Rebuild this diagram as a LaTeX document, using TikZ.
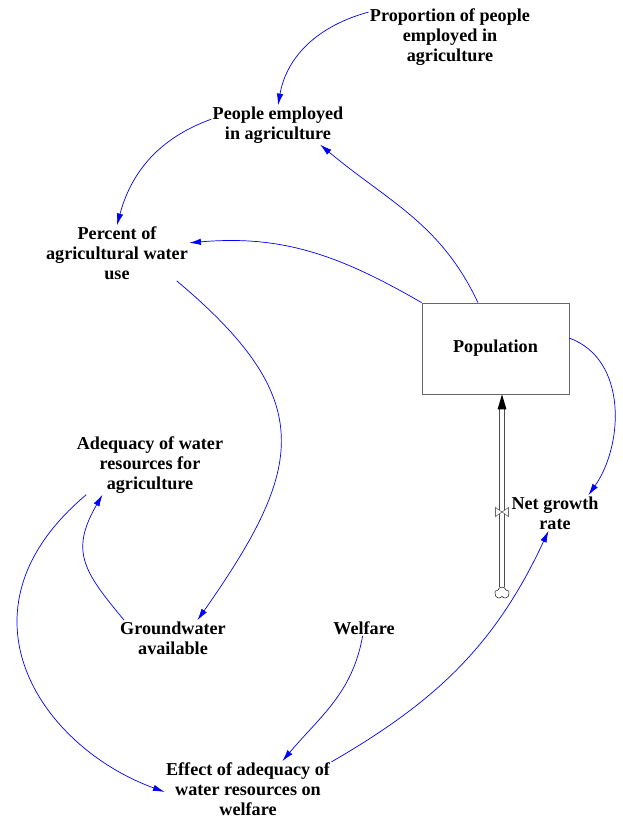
\documentclass[tikz,border=0pt]{standalone}
\usepackage{fontspec}
\setmainfont{Liberation Serif}
\usetikzlibrary{arrows.meta,shapes.symbols}
\begin{document}
\begin{tikzpicture}[x=0.3mm,y=-0.3mm,
        var/.style={align=center,inner sep=1pt,font=\fontsize{15.5}{17}\selectfont\bfseries},
        link/.style={draw=blue,line width=0.6pt,-{Latex[length=10pt,width=5.5pt]}},
        stock/.style={draw=black!60,line width=0.7pt,minimum width=44.1mm,minimum height=27.3mm,inner sep=0pt},
        pipe/.style={draw=black!70,line width=0.6pt}]
        \useasboundingbox (0,0) rectangle (623,819);
        \node[var] (prop) at (450,37) {Proportion of people\\employed in\\agriculture};
        \node[var] (emp) at (278,125) {People employed\\in agriculture};
        \node[var] (pct) at (117,253) {Percent of\\agricultural water\\use};
        \node[var,stock] (pop) at (495.5,348.5) {Population};
        \node[var] (ngr) at (555,513) {Net growth\\rate};
        \node[var] (adq) at (150,465) {Adequacy of water\\resources for\\agriculture};
        \node[var] (gw) at (173,638) {Groundwater\\available};
        \node[var] (wel) at (364,628) {Welfare};
        \node[var] (eff) at (248,789) {Effect of adequacy of\\water resources on\\welfare};
        \node[cloud,draw,cloud puffs=5,aspect=1.2,inner sep=0pt,minimum width=4.4mm,minimum height=3.6mm] (src) at (502,593) {};
        \coordinate (valve) at (502,512);
        \coordinate (pipetop) at (502,408);
        \draw[pipe] ([xshift=-2pt]src.north) -- ([xshift=-2pt]pipetop)
            ([xshift=2pt]src.north) -- ([xshift=2pt]pipetop);
        \fill (valve |- pop.south) -- ++(-4.5,15) -- ++(9,0) -- cycle;
        \draw[draw=black!60,fill=white,line width=0.5pt] (valve) -- ++(-6.5,-4.5) -- ++(0,9) -- cycle
            (valve) -- ++(6.5,-4.5) -- ++(0,9) -- cycle;
        \draw[link] (prop.163) to[out=195,in=80] (emp.north);
        \draw[link] (emp.175) to[out=200,in=75] (pct.north);
        \draw[link] (pop.111) to[out=115,in=-40] (emp.-25);
        \draw[link] (pop.north west) to[out=150,in=5] (pct.8);
        \draw[link] (pct.-25) to[out=-40,in=55,looseness=1.4] (gw.36);
        \draw[link] (gw.160) to[out=130,in=-120,looseness=1.3] (adq.212);
        \draw[link] (adq.205) to[out=220,in=160,out looseness=1.5,in looseness=1.1] (eff.182);
        \draw[link] (wel.-100) to[out=-100,in=50] (eff.39);
        \draw[link] (eff.18) to[out=30,in=-115] (ngr.-110);
        \draw[link] (pop.8) to[out=-20,in=55] (ngr.28);
    \end{tikzpicture}
\end{document}
